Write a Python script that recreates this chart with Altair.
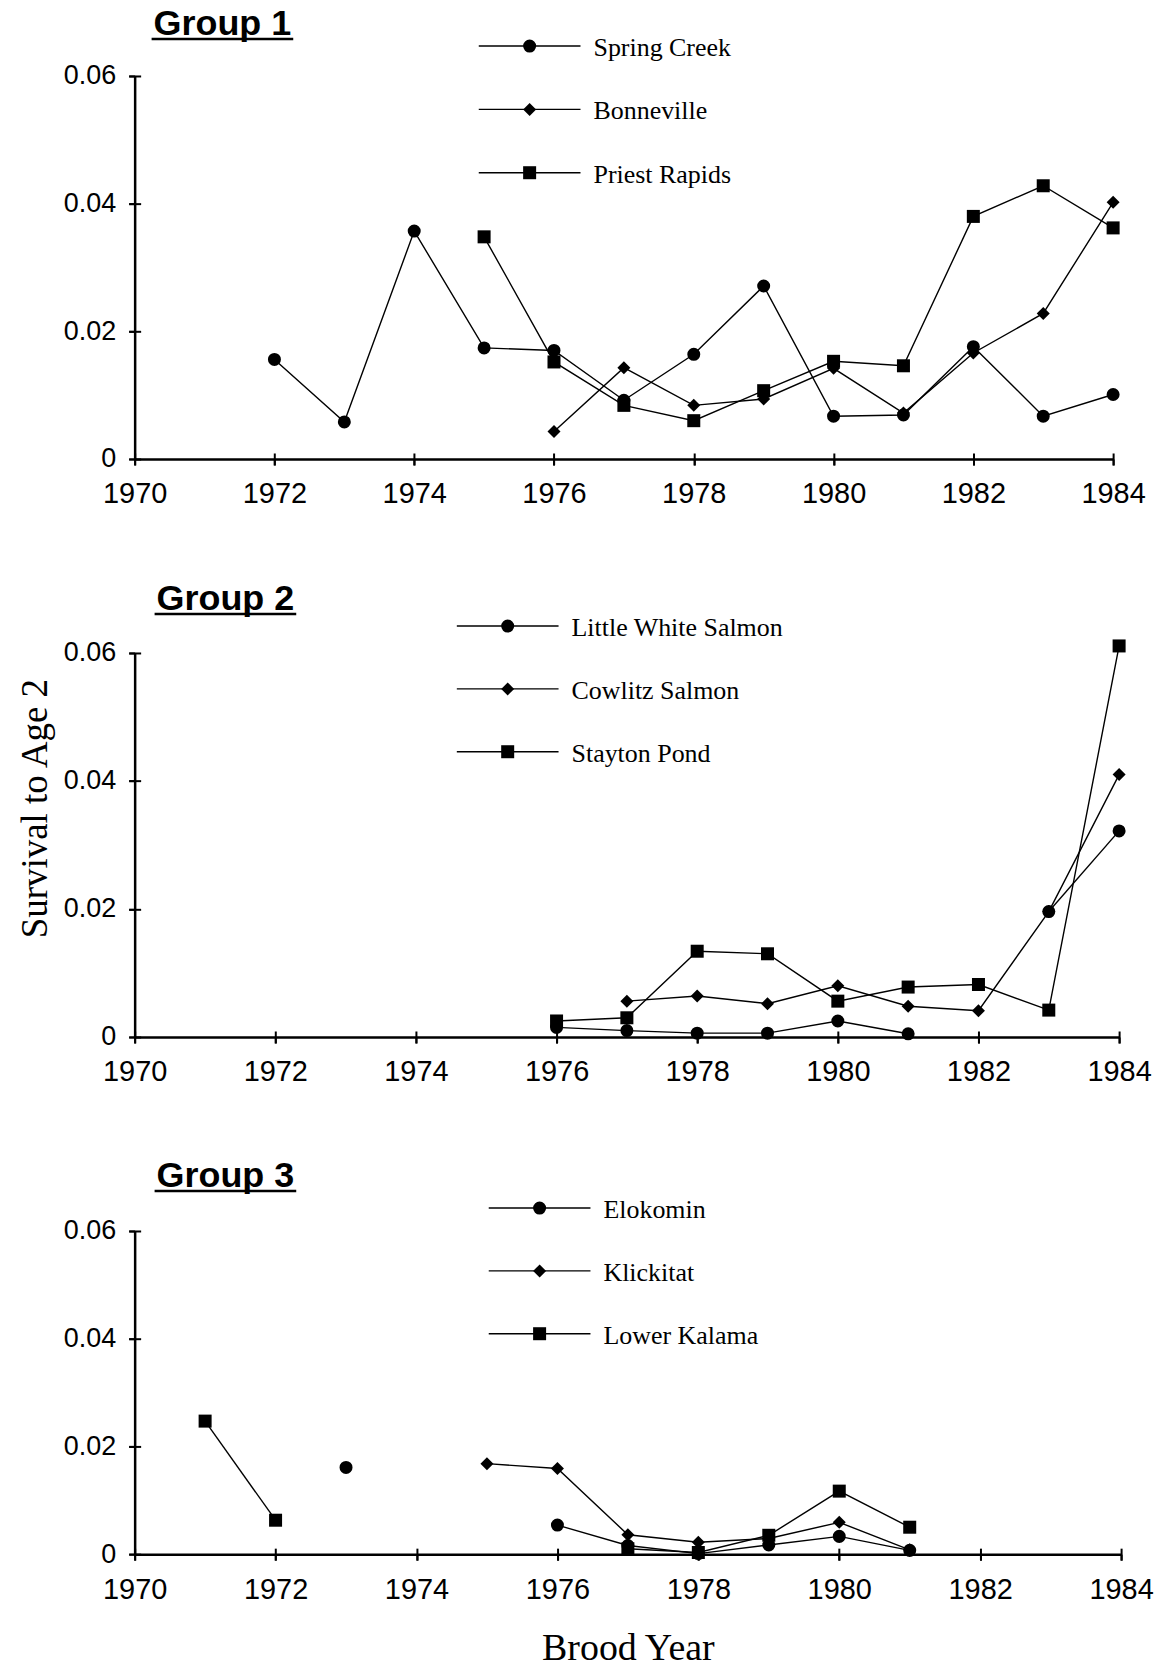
import altair as alt
import pandas as pd

# ---------------- data ----------------
group_titles = ["Group 1", "Group 2", "Group 3"]

g1_names = ["Spring Creek", "Bonneville", "Priest Rapids"]
g1_years = [
    list(range(1972, 1985)),
    list(range(1976, 1985)),
    list(range(1975, 1985)),
]
g1_values = [
    [0.0156, 0.0058, 0.0357, 0.0174, 0.0170, 0.0092, 0.0164, 0.0271, 0.0067, 0.0069, 0.0176, 0.0067, 0.0101],
    [0.0043, 0.0143, 0.0084, 0.0094, 0.0142, 0.0072, 0.0166, 0.0228, 0.0402],
    [0.0348, 0.0152, 0.0084, 0.0060, 0.0107, 0.0153, 0.0146, 0.0380, 0.0428, 0.0362],
]

g2_names = ["Little White Salmon", "Cowlitz Salmon", "Stayton Pond"]
g2_years = [
    [1976, 1977, 1978, 1979, 1980, 1981, 1983, 1984],
    list(range(1977, 1985)),
    list(range(1976, 1985)),
]
g2_values = [
    [0.0015, 0.0010, 0.0006, 0.0006, 0.0025, 0.0005, 0.0196, 0.0322],
    [0.0056, 0.0064, 0.0052, 0.0080, 0.0048, 0.0041, 0.0196, 0.0410],
    [0.0025, 0.0030, 0.0134, 0.0130, 0.0056, 0.0078, 0.0082, 0.0042, 0.0611],
]

g3_names = ["Elokomin", "Klickitat", "Lower Kalama"]
g3_years = [
    [1973, 1976, 1977, 1978, 1979, 1980, 1981],
    list(range(1975, 1982)),
    [1971, 1972, 1977, 1978, 1979, 1980, 1981],
]
g3_values = [
    [0.0161, 0.0054, 0.0016, 0.0001, 0.0017, 0.0033, 0.0007],
    [0.0168, 0.0159, 0.0036, 0.0022, 0.0029, 0.0059, 0.0008],
    [0.0247, 0.0063, 0.0010, 0.0003, 0.0035, 0.0117, 0.0050],
]

x_ticks = list(range(1970, 1985, 2))
y_ticks = [0, 0.02, 0.04, 0.06]

# ---------------- styling ----------------
SANS = "Liberation Sans"
SERIF = "Liberation Serif"
point_shapes = ["circle", "diamond", "square"]


def make_panel(title, names, years, values, width, height, legend_mx,
               legend_rows, title_x, title_y, ytitle=None, xtitle=None):
    rows = []
    for name, yrs, vals in zip(names, years, values):
        seg, prev = 0, None
        for yr, v in zip(yrs, vals):
            if prev is not None and yr - prev > 1:
                seg += 1
            rows.append({"series": name, "year": yr, "value": v,
                         "seg": f"{name}-{seg}"})
            prev = yr
    df = pd.DataFrame(rows)
    base = alt.Chart(df)

    xscale = alt.Scale(domain=[1970, 1984], nice=False, zero=False)
    yscale = alt.Scale(domain=[0, 0.06], nice=False, zero=True)
    shape_scale = alt.Scale(domain=names, range=point_shapes)
    ylabel = "datum.value == 0 ? '0' : format(datum.value, '.2f')"

    x_main = alt.X("year:Q", scale=xscale, axis=alt.Axis(
        orient="bottom", values=x_ticks, format="d",
        title=xtitle if xtitle else None, labelFontSize=29,
        labelPadding=15, tickSize=6, grid=False, labelFlush=False,
        titleFont=SERIF, titleFontSize=38, titleFontWeight="normal",
        titlePadding=26, titleColor="black"))
    y_main = alt.Y("value:Q", scale=yscale, axis=alt.Axis(
        orient="left", values=y_ticks, labelExpr=ylabel,
        title=ytitle if ytitle else None,
        labelPadding=13, tickSize=6, grid=False, labelFlush=False,
        titleFont=SERIF, titleFontSize=37, titleFontWeight="normal",
        titlePadding=9, titleColor="black", titleY=height / 2 - 37))
    x_tick = alt.X("year:Q", scale=xscale, axis=alt.Axis(
        orient="bottom", values=x_ticks, labels=False, domain=False,
        tickSize=12, offset=-6, title=None, grid=False))
    y_tick = alt.Y("value:Q", scale=yscale, axis=alt.Axis(
        orient="left", values=y_ticks, labels=False, domain=False,
        tickSize=12, offset=-6, title=None, grid=False))

    lines = base.mark_line(color="black", strokeWidth=1.4).encode(
        x=x_main, y=y_main, detail="seg:N")
    points = base.mark_point(filled=True, color="black", size=170, opacity=1).encode(
        x=x_tick, y=y_tick,
        shape=alt.Shape("series:N", scale=shape_scale, legend=None))

    # legend drawn from the series names
    ldf = pd.DataFrame({"series": names, "row": list(range(len(names)))})
    lbase = alt.Chart(ldf)
    ly = alt.Y("row:Q", scale=alt.Scale(domain=[0, len(names) - 1],
                                        range=legend_rows, nice=False, zero=False),
               axis=None)
    leg_line = lbase.mark_rule(color="black", strokeWidth=1.4).encode(
        x=alt.value(legend_mx - 51), x2=alt.value(legend_mx + 51), y=ly)
    leg_pts = lbase.mark_point(filled=True, color="black", size=170, opacity=1).encode(
        x=alt.value(legend_mx), y=ly,
        shape=alt.Shape("series:N", scale=shape_scale, legend=None))
    leg_txt = lbase.mark_text(font=SERIF, fontSize=26, color="black",
                              align="left", baseline="middle", dy=2).encode(
        x=alt.value(legend_mx + 64), y=ly, text="series:N")

    tdf = pd.DataFrame({"t": [title]})
    title_mark = alt.Chart(tdf).mark_text(
        font=SANS, fontSize=36, fontWeight="bold", color="black",
        align="left", baseline="alphabetic").encode(
        x=alt.value(title_x), y=alt.value(title_y), text="t:N")
    underline = alt.Chart(tdf).mark_rule(color="black", strokeWidth=2.5).encode(
        x=alt.value(title_x - 2), x2=alt.value(title_x + 140),
        y=alt.value(title_y + 4))

    return alt.layer(lines, points, leg_line, leg_pts, leg_txt, title_mark,
                     underline).resolve_scale(y="independent").resolve_axis(
        x="independent", y="independent").properties(width=width, height=height)


p1 = make_panel(group_titles[0], g1_names, g1_years, g1_values, 981, 384,
                legend_mx=396, legend_rows=[-30, 97], title_x=19, title_y=-41)
p2 = make_panel(group_titles[1], g2_names, g2_years, g2_values, 987, 385,
                legend_mx=374, legend_rows=[-27, 99], title_x=22, title_y=-43,
                ytitle="Survival to Age 2")
p3 = make_panel(group_titles[2], g3_names, g3_years, g3_values, 989, 324,
                legend_mx=406, legend_rows=[-23, 103], title_x=22, title_y=-44,
                xtitle="Brood Year")

chart = alt.vconcat(p1, p2, p3, spacing=194.5, bounds="flush").resolve_scale(
    shape="independent").configure(
    background="white",
    padding={"left": 16, "top": 4, "right": 5, "bottom": 5},
).configure_view(stroke=None).configure_axis(
    labelFont=SANS, labelFontSize=27, labelColor="black",
    domainColor="black", domainWidth=2.5, tickColor="black", tickWidth=2,
)

chart.save("out.html", embed_options={"renderer": "svg", "actions": False})
